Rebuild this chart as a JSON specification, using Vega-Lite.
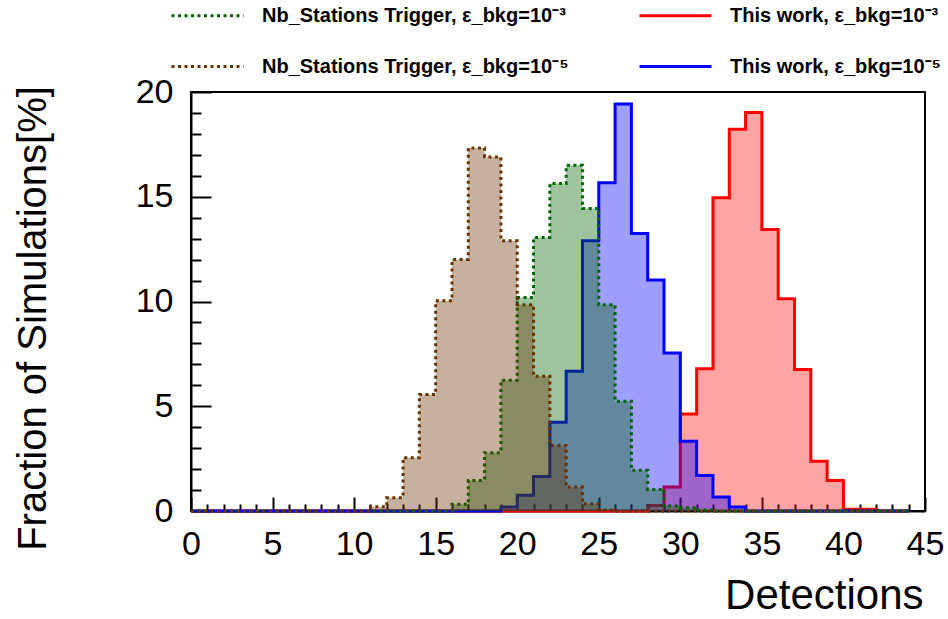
{
  "$schema": "https://vega.github.io/schema/vega-lite/v6.json",
  "width": 734,
  "height": 419,
  "autosize": {"type": "none"},
  "padding": {"left": 191, "top": 92, "right": 23, "bottom": 108},
  "background": "white",
  "config": {
    "view": {"stroke": "black", "strokeWidth": 2},
    "font": "Liberation Sans"
  },
  "data": {
    "values": [
      {"b": 0, "r": 0, "bl": 0, "g": 0, "br": 0},
      {"b": 1, "r": 0, "bl": 0, "g": 0, "br": 0},
      {"b": 2, "r": 0, "bl": 0, "g": 0, "br": 0},
      {"b": 3, "r": 0, "bl": 0, "g": 0, "br": 0},
      {"b": 4, "r": 0, "bl": 0, "g": 0, "br": 0},
      {"b": 5, "r": 0, "bl": 0, "g": 0, "br": 0},
      {"b": 6, "r": 0, "bl": 0, "g": 0, "br": 0},
      {"b": 7, "r": 0, "bl": 0, "g": 0, "br": 0},
      {"b": 8, "r": 0, "bl": 0, "g": 0, "br": 0},
      {"b": 9, "r": 0, "bl": 0, "g": 0, "br": 0},
      {"b": 10, "r": 0, "bl": 0, "g": 0, "br": 0},
      {"b": 11, "r": 0, "bl": 0, "g": 0, "br": 0.2},
      {"b": 12, "r": 0, "bl": 0, "g": 0, "br": 0.63},
      {"b": 13, "r": 0, "bl": 0, "g": 0, "br": 2.54},
      {"b": 14, "r": 0, "bl": 0, "g": 0, "br": 5.56},
      {"b": 15, "r": 0, "bl": 0, "g": 0, "br": 10.03},
      {"b": 16, "r": 0, "bl": 0, "g": 0.32, "br": 12.0},
      {"b": 17, "r": 0, "bl": 0, "g": 1.46, "br": 17.33},
      {"b": 18, "r": 0, "bl": 0, "g": 2.78, "br": 16.9},
      {"b": 19, "r": 0, "bl": 0.19, "g": 6.24, "br": 12.9},
      {"b": 20, "r": 0, "bl": 0.75, "g": 10.19, "br": 9.84},
      {"b": 21, "r": 0, "bl": 1.65, "g": 13.05, "br": 6.43},
      {"b": 22, "r": 0, "bl": 4.24, "g": 15.63, "br": 3.13},
      {"b": 23, "r": 0, "bl": 6.67, "g": 16.5, "br": 1.14},
      {"b": 24, "r": 0, "bl": 12.9, "g": 14.44, "br": 0.35},
      {"b": 25, "r": 0, "bl": 15.67, "g": 9.84, "br": 0.05},
      {"b": 26, "r": 0, "bl": 19.43, "g": 5.24, "br": 0},
      {"b": 27, "r": 0, "bl": 13.24, "g": 1.94, "br": 0},
      {"b": 28, "r": 0.26, "bl": 11.03, "g": 1.03, "br": 0},
      {"b": 29, "r": 1.14, "bl": 7.54, "g": 0.24, "br": 0},
      {"b": 30, "r": 4.63, "bl": 3.33, "g": 0.16, "br": 0},
      {"b": 31, "r": 6.79, "bl": 1.7, "g": 0.05, "br": 0},
      {"b": 32, "r": 14.95, "bl": 0.67, "g": 0, "br": 0},
      {"b": 33, "r": 18.22, "bl": 0.19, "g": 0, "br": 0},
      {"b": 34, "r": 19.02, "bl": 0, "g": 0, "br": 0},
      {"b": 35, "r": 13.44, "bl": 0, "g": 0, "br": 0},
      {"b": 36, "r": 10.13, "bl": 0, "g": 0, "br": 0},
      {"b": 37, "r": 6.75, "bl": 0, "g": 0, "br": 0},
      {"b": 38, "r": 2.38, "bl": 0, "g": 0, "br": 0},
      {"b": 39, "r": 1.46, "bl": 0, "g": 0, "br": 0},
      {"b": 40, "r": 0.08, "bl": 0, "g": 0, "br": 0},
      {"b": 41, "r": 0.08, "bl": 0, "g": 0, "br": 0},
      {"b": 42, "r": 0, "bl": 0, "g": 0, "br": 0},
      {"b": 43, "r": 0, "bl": 0, "g": 0, "br": 0},
      {"b": 44, "r": 0, "bl": 0, "g": 0, "br": 0}
    ]
  },
  "transform": [{"fold": ["r", "bl", "g", "br"], "as": ["key", "pct"]}],
  "encoding": {
    "x": {
      "field": "b",
      "type": "quantitative",
      "scale": {"domain": [0, 45], "nice": false, "zero": false},
      "axis": {
        "values": [0,1,2,3,4,5,6,7,8,9,10,11,12,13,14,15,16,17,18,19,20,21,22,23,24,25,26,27,28,29,30,31,32,33,34,35,36,37,38,39,40,41,42,43,44,45],
        "labelExpr": "datum.value % 5 === 0 ? datum.label : ''",
        "labelOverlap": false,
        "labelFontSize": 34,
        "labelColor": "black",
        "labelPadding": 30,
        "labelFlush": false,
        "tickSize": {"condition": {"test": "datum.value % 5 === 0", "value": -14}, "value": -7},
        "tickColor": "black",
        "tickWidth": 2,
        "domainColor": "black",
        "domainWidth": 2,
        "grid": false,
        "title": "Detections",
        "titleFontSize": 42,
        "titleFontWeight": "normal",
        "titleColor": "black",
        "titleAngle": 0,
        "titleAlign": "right",
        "titleBaseline": "alphabetic",
        "titleX": 732,
        "titleY": 97
      }
    },
    "y": {
      "field": "pct",
      "type": "quantitative",
      "scale": {"domain": [0, 20], "nice": false},
      "axis": {
        "values": [0,1,2,3,4,5,6,7,8,9,10,11,12,13,14,15,16,17,18,19,20],
        "labelExpr": "datum.value % 5 === 0 ? datum.label : ''",
        "labelOverlap": false,
        "labelFontSize": 34,
        "labelColor": "black",
        "labelPadding": 38,
        "labelFlush": false,
        "tickSize": {"condition": {"test": "datum.value % 5 === 0", "value": -20}, "value": -10},
        "tickColor": "black",
        "tickWidth": 2,
        "domainColor": "black",
        "domainWidth": 2,
        "grid": false,
        "title": "Fraction of Simulations[%]",
        "titleFontSize": 40,
        "titleFontWeight": "normal",
        "titleColor": "black",
        "titleAngle": 270,
        "titleAlign": "center",
        "titleBaseline": "middle",
        "titleX": -158,
        "titleY": 226
      }
    }
  },
  "layer": [
    {
      "transform": [{"filter": "datum.key === 'r'"}],
      "mark": {"type": "area", "interpolate": "step-after", "fill": "#ff0000", "fillOpacity": 0.36}
    },
    {
      "transform": [{"filter": "datum.key === 'r'"}],
      "mark": {"type": "line", "interpolate": "step-after", "strokeWidth": 3},
      "encoding": {
        "color": {"field": "key", "type": "nominal"},
        "strokeDash": {"field": "key", "type": "nominal"}
      }
    },
    {
      "transform": [{"filter": "datum.key === 'bl'"}],
      "mark": {"type": "area", "interpolate": "step-after", "fill": "#0000ff", "fillOpacity": 0.38}
    },
    {
      "transform": [{"filter": "datum.key === 'bl'"}],
      "mark": {"type": "line", "interpolate": "step-after", "strokeWidth": 3},
      "encoding": {
        "color": {"field": "key", "type": "nominal"},
        "strokeDash": {"field": "key", "type": "nominal"}
      }
    },
    {
      "transform": [{"filter": "datum.key === 'g'"}],
      "mark": {"type": "area", "interpolate": "step-after", "fill": "#006400", "fillOpacity": 0.38}
    },
    {
      "transform": [{"filter": "datum.key === 'g'"}],
      "mark": {"type": "line", "interpolate": "step-after", "strokeWidth": 3},
      "encoding": {
        "color": {"field": "key", "type": "nominal"},
        "strokeDash": {"field": "key", "type": "nominal"}
      }
    },
    {
      "transform": [{"filter": "datum.key === 'br'"}],
      "mark": {"type": "area", "interpolate": "step-after", "fill": "#663300", "fillOpacity": 0.38}
    },
    {
      "transform": [{"filter": "datum.key === 'br'"}],
      "mark": {"type": "line", "interpolate": "step-after", "strokeWidth": 3},
      "encoding": {
        "color": {
          "field": "key",
          "type": "nominal",
          "scale": {"domain": ["g", "br", "r", "bl"], "range": ["#006400", "#663300", "#ff0000", "#0000ff"]},
          "legend": {
            "orient": "none",
            "legendX": -21,
            "legendY": -114,
            "columns": 2,
            "columnPadding": 64,
            "rowPadding": 3,
            "padding": 0,
            "title": null,
            "symbolType": "stroke",
            "symbolSize": 5184,
            "symbolStrokeWidth": 3,
            "labelFontSize": 20,
            "labelFontWeight": "bold",
            "labelColor": "black",
            "labelOffset": 17,
            "labelLimit": 0,
            "labelExpr": "datum.value === 'g' ? 'Nb_Stations Trigger, ε_bkg=10⁻³' : datum.value === 'r' ? 'This work, ε_bkg=10⁻³' : datum.value === 'br' ? 'Nb_Stations Trigger, ε_bkg=10⁻⁵' : 'This work, ε_bkg=10⁻⁵'"
          }
        },
        "strokeDash": {
          "field": "key",
          "type": "nominal",
          "scale": {"domain": ["g", "br", "r", "bl"], "range": [[3, 3.5], [3, 3.5], [1, 0], [1, 0]]},
          "legend": {
            "orient": "none",
            "legendX": -21,
            "legendY": -114,
            "columns": 2,
            "columnPadding": 64,
            "rowPadding": 3,
            "padding": 0,
            "title": null,
            "symbolType": "stroke",
            "symbolSize": 5184,
            "symbolStrokeWidth": 3,
            "labelFontSize": 20,
            "labelFontWeight": "bold",
            "labelColor": "black",
            "labelOffset": 17,
            "labelLimit": 0,
            "labelExpr": "datum.value === 'g' ? 'Nb_Stations Trigger, ε_bkg=10⁻³' : datum.value === 'r' ? 'This work, ε_bkg=10⁻³' : datum.value === 'br' ? 'Nb_Stations Trigger, ε_bkg=10⁻⁵' : 'This work, ε_bkg=10⁻⁵'"
          }
        }
      }
    }
  ]
}
